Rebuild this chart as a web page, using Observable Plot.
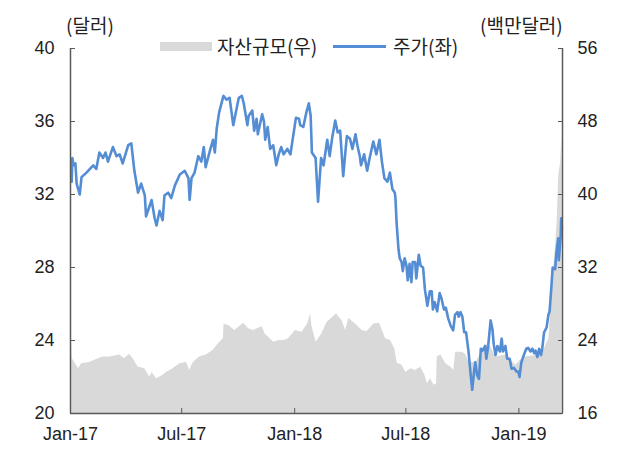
<!DOCTYPE html>
<html><head><meta charset="utf-8">
<script src="https://cdn.jsdelivr.net/npm/d3@7"></script>
<script src="https://cdn.jsdelivr.net/npm/@observablehq/plot@0.6"></script>
<style>
body{margin:0;background:#fff;}
#wrap{position:relative;width:617px;height:450px;font-family:"Noto Sans CJK KR","Liberation Sans",sans-serif;color:#222;}
.lbl{position:absolute;font-size:19px;line-height:1;white-space:nowrap;}
.sw{position:absolute;}
</style></head><body><div id="wrap"></div>
<script>
// ---- data ----
const priceDates = ["2017-01-03","2017-01-04","2017-01-06","2017-01-09","2017-01-11","2017-01-16","2017-01-19","2017-01-27","2017-02-07","2017-02-12","2017-02-17","2017-02-23","2017-02-27","2017-03-03","2017-03-11","2017-03-17","2017-03-22","2017-03-27","2017-04-05","2017-04-10","2017-04-15","2017-04-21","2017-04-26","2017-05-02","2017-05-04","2017-05-13","2017-05-18","2017-05-21","2017-05-26","2017-05-31","2017-06-03","2017-06-09","2017-06-14","2017-06-20","2017-06-28","2017-07-06","2017-07-12","2017-07-14","2017-07-17","2017-07-22","2017-07-28","2017-08-02","2017-08-06","2017-08-09","2017-08-16","2017-08-21","2017-08-24","2017-08-27","2017-08-31","2017-09-07","2017-09-12","2017-09-17","2017-09-23","2017-09-26","2017-10-02","2017-10-07","2017-10-10","2017-10-16","2017-10-18","2017-10-24","2017-10-27","2017-10-31","2017-11-02","2017-11-09","2017-11-12","2017-11-14","2017-11-18","2017-11-22","2017-11-27","2017-12-02","2017-12-06","2017-12-10","2017-12-14","2017-12-20","2017-12-25","2017-12-30","2018-01-03","2018-01-08","2018-01-10","2018-01-15","2018-01-20","2018-01-24","2018-01-27","2018-01-29","2018-02-04","2018-02-08","2018-02-13","2018-02-17","2018-02-23","2018-02-27","2018-03-03","2018-03-08","2018-03-12","2018-03-16","2018-03-21","2018-03-25","2018-03-27","2018-04-01","2018-04-05","2018-04-10","2018-04-13","2018-04-17","2018-04-19","2018-04-24","2018-04-29","2018-05-03","2018-05-09","2018-05-14","2018-05-19","2018-05-23","2018-05-27","2018-06-01","2018-06-05","2018-06-09","2018-06-13","2018-06-14","2018-06-16","2018-06-19","2018-06-21","2018-06-24","2018-06-26","2018-06-29","2018-07-02","2018-07-04","2018-07-07","2018-07-10","2018-07-12","2018-07-16","2018-07-18","2018-07-22","2018-07-25","2018-07-29","2018-08-01","2018-08-05","2018-08-09","2018-08-12","2018-08-14","2018-08-17","2018-08-21","2018-08-25","2018-08-28","2018-09-01","2018-09-04","2018-09-08","2018-09-12","2018-09-16","2018-09-19","2018-09-23","2018-09-25","2018-09-28","2018-10-01","2018-10-04","2018-10-07","2018-10-11","2018-10-14","2018-10-17","2018-10-20","2018-10-22","2018-10-25","2018-10-28","2018-10-31","2018-11-03","2018-11-07","2018-11-09","2018-11-12","2018-11-16","2018-11-19","2018-11-21","2018-11-24","2018-11-27","2018-12-01","2018-12-04","2018-12-06","2018-12-10","2018-12-13","2018-12-17","2018-12-20","2018-12-24","2018-12-28","2018-12-31","2019-01-02","2019-01-05","2019-01-09","2019-01-13","2019-01-16","2019-01-20","2019-01-23","2019-01-26","2019-01-28","2019-01-31","2019-02-03","2019-02-06","2019-02-08","2019-02-11","2019-02-15","2019-02-18","2019-02-20","2019-02-23","2019-02-25","2019-03-01","2019-03-03","2019-03-06","2019-03-07","2019-03-10","2019-03-11","2019-03-12"];
const priceValues = [32.7,34.0,33.6,33.7,32.6,32.0,32.95,33.2,33.6,33.4,34.3,34.0,34.3,33.8,34.6,34.1,34.2,33.7,34.7,34.8,33.3,32.1,32.6,31.95,30.8,31.7,30.7,30.3,31.1,30.6,31.95,32.1,31.8,32.5,33.1,33.3,32.9,31.7,32.9,33.2,34.1,33.8,34.6,33.5,34.4,35.0,34.3,35.6,36.5,37.4,37.2,37.3,35.8,36.3,37.3,37.4,37.0,35.8,36.3,36.6,35.5,36.15,35.3,36.4,36.0,35.0,35.7,34.5,34.7,33.6,34.2,34.6,34.2,34.5,34.2,35.3,36.2,36.15,35.8,35.7,36.5,37.0,36.3,34.3,34.0,31.6,34.0,33.6,35.0,34.1,35.1,36.05,35.4,35.5,33.0,34.5,35.2,35.05,34.5,35.3,34.7,34.1,33.6,34.2,33.3,34.0,34.9,34.2,35.0,33.8,32.9,32.7,33.2,32.3,32.1,31.8,30.4,29.0,28.5,28.3,27.8,28.5,28.1,27.3,28.2,27.2,28.3,28.3,27.4,28.7,28.1,28.0,26.8,25.9,26.7,26.7,25.7,26.1,25.6,26.6,26.3,25.7,25.8,25.2,24.8,24.55,25.4,25.55,25.3,25.55,25.3,24.45,24.45,23.4,22.3,21.3,22.3,22.8,22.1,21.9,23.55,23.45,23.7,23.0,23.7,25.1,24.6,23.8,23.2,23.7,23.4,24.1,23.4,23.7,23.0,23.0,22.45,22.5,22.3,22.3,22.0,22.8,23.2,23.55,23.6,23.4,23.55,23.3,23.45,23.1,23.55,23.2,23.55,24.45,24.7,25.4,25.6,27.0,28.0,27.9,28.8,29.6,28.4,29.7,30.7,30.1];

const assetDates = ["2017-01-03","2017-01-04","2017-01-14","2017-01-19","2017-02-01","2017-02-15","2017-02-23","2017-03-06","2017-03-22","2017-03-30","2017-04-07","2017-04-13","2017-04-21","2017-05-02","2017-05-10","2017-05-14","2017-05-21","2017-06-01","2017-06-06","2017-06-17","2017-06-28","2017-07-09","2017-07-14","2017-07-20","2017-07-30","2017-08-10","2017-08-21","2017-09-01","2017-09-07","2017-09-08","2017-09-17","2017-09-25","2017-09-29","2017-10-10","2017-10-18","2017-10-26","2017-11-09","2017-11-14","2017-11-28","2017-12-06","2017-12-14","2017-12-22","2018-01-02","2018-01-13","2018-01-22","2018-01-27","2018-01-29","2018-02-05","2018-02-14","2018-02-23","2018-03-10","2018-03-19","2018-03-25","2018-03-30","2018-04-10","2018-04-21","2018-04-29","2018-05-10","2018-05-19","2018-05-29","2018-06-06","2018-06-13","2018-06-17","2018-06-25","2018-07-01","2018-07-09","2018-07-17","2018-07-25","2018-08-01","2018-08-05","2018-08-10","2018-08-16","2018-08-20","2018-08-21","2018-08-27","2018-09-04","2018-09-12","2018-09-17","2018-09-20","2018-10-01","2018-10-06","2018-10-12","2018-10-23","2018-11-05","2018-11-13","2018-11-24","2018-12-10","2018-12-27","2019-01-03","2019-01-09","2019-02-08","2019-02-14","2019-02-19","2019-02-24","2019-03-01","2019-03-04","2019-03-07","2019-03-10","2019-03-12"];
const assetValues = [23.8,22.0,20.9,21.45,21.6,22.0,22.2,22.2,22.4,22.0,22.5,22.0,21.1,20.9,20.0,20.5,19.8,20.2,20.5,20.9,21.45,21.6,20.7,21.6,22.2,22.4,22.9,23.8,24.2,25.8,25.6,25.1,25.3,25.9,25.3,25.1,25.5,24.7,23.8,24.0,24.0,24.2,25.1,24.9,25.8,26.9,25.6,23.8,24.7,26.0,26.9,26.2,25.1,26.4,25.8,25.1,25.0,25.8,25.9,24.2,24.0,23.1,21.5,21.3,20.5,20.9,20.7,21.1,20.2,19.25,19.8,19.1,19.25,22.2,22.4,21.45,21.1,20.7,22.7,22.7,22.5,21.6,21.6,23.1,23.8,22.2,22.4,21.3,21.8,22.2,22.4,23.5,24.2,30.0,33.7,36.6,42.1,43.5,46.5];

const leftTicks = [20, 24, 28, 32, 36, 40];
const rightTicks = [16, 24, 32, 40, 48, 56];
const xTicks = ["2017-01-01","2017-07-01","2018-01-01","2018-07-01","2019-01-01"];
const xTickLabels = ["Jan-17","Jul-17","Jan-18","Jul-18","Jan-19"];
const xDomain = ["2017-01-01","2019-03-13"];
const leftUnit = "(달러)", rightUnit = "(백만달러)";
const seriesNames = ["자산규모(우)", "주가(좌)"];
const colors = ["#D9D9D9", "#548DD4"];

// ---- build ----
const L0 = leftTicks[0], L1 = leftTicks[leftTicks.length-1];
const R0 = rightTicks[0], R1 = rightTicks[rightTicks.length-1];
const toLeft = v => L0 + (v - R0) * (L1 - L0) / (R1 - R0);
const price = priceDates.map((d,i) => ({date: new Date(d), v: priceValues[i]}));
const asset = assetDates.map((d,i) => ({date: new Date(d), base: toLeft(R0), v: toLeft(assetValues[i])}));
const xd = xDomain.map(d => new Date(d));
const xt = xTicks.map(d => new Date(d));
const axisColor = "#595959";

const chart = Plot.plot({
  width: 617, height: 450,
  marginLeft: 70, marginRight: 55, marginTop: 48, marginBottom: 37,
  x: {type: "utc", domain: xd},
  y: {domain: [L0, L1]},
  style: {fontFamily: "'Liberation Sans', Arial, sans-serif", fontSize: "18px", color: "#222", background: "transparent"},
  marks: [
    Plot.areaY(asset, {x: "date", y1: "base", y2: "v", fill: colors[0]}),
    Plot.lineY(price, {x: "date", y: "v", stroke: colors[1], strokeWidth: 2.6}),
    Plot.ruleX(xd, {stroke: axisColor, strokeWidth: 1.5}),
    Plot.ruleY([L0], {stroke: axisColor, strokeWidth: 1.5}),
    Plot.axisY({anchor: "left", ticks: leftTicks, tickSize: -5, tickPadding: 21, label: null, tickFormat: d => String(d), stroke: axisColor}),
    Plot.axisY({anchor: "right", ticks: leftTicks, tickSize: -5, tickPadding: 20, label: null, tickFormat: (d,i) => String(rightTicks[leftTicks.indexOf(d)]), stroke: axisColor}),
    Plot.axisX({ticks: xt, tickSize: -5, tickPadding: 19, label: null, tickFormat: d => xTickLabels[xt.findIndex(t => +t === +d)], stroke: axisColor})
  ]
});
const wrap = document.getElementById("wrap");
wrap.appendChild(chart);

function addLabel(text, left, top) {
  const el = document.createElement("div");
  el.className = "lbl"; el.textContent = text;
  el.style.left = left + "px"; el.style.top = top + "px";
  wrap.appendChild(el);
}
function addSwatch(left, top, w, h, color) {
  const el = document.createElement("div");
  el.className = "sw";
  Object.assign(el.style, {left: left+"px", top: top+"px", width: w+"px", height: h+"px", background: color});
  wrap.appendChild(el);
}
addLabel(leftUnit, 66, 15);
addLabel(rightUnit, 480, 15);
addSwatch(160, 42, 52, 9, colors[0]);
addLabel(seriesNames[0], 217, 36);
addSwatch(333, 45, 53, 2.6, colors[1]);
addLabel(seriesNames[1], 393, 36);
</script>
</body></html>
